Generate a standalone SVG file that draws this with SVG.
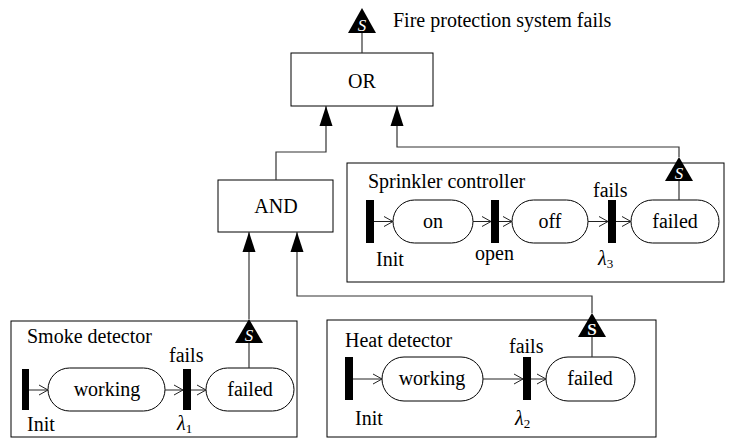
<svg xmlns="http://www.w3.org/2000/svg" width="732" height="440" viewBox="0 0 732 440" font-family="'Liberation Serif', 'DejaVu Serif', 'Times New Roman', serif">
  <style>
    text { font-family: "Liberation Serif", "DejaVu Serif", "Times New Roman", serif; font-size: 20px; fill: #000; }
    .mid { text-anchor: middle; }
    .box { fill: #fff; stroke: #000; stroke-width: 1; }
    .gate { fill: #fff; stroke: #000; stroke-width: 1; }
    .state { fill: #fff; stroke: #000; stroke-width: 1; }
    .bar { fill: #000; }
    .link { fill: none; stroke: #333; stroke-width: 1.2; }
    .trans { fill: none; stroke: #222; stroke-width: 1; marker-end: url(#chevron); }
    .trig { fill: #000; }
    .trigS { fill: #fff; font-size: 17px; font-style: italic; text-anchor: middle; }
    .trigU { fill: #fff; font-size: 17px; font-weight: bold; text-anchor: middle; }
    .lam { font-style: italic; }
    .sub { font-size: 13px; font-style: normal; }
  </style>
  <defs>
    <marker id="arrow" markerUnits="userSpaceOnUse" markerWidth="20" markerHeight="14" refX="20" refY="7" orient="auto">
      <path d="M0,0.5 L20,7 L0,13.5 z" fill="#000"/>
    </marker>
    <marker id="chevron" markerUnits="userSpaceOnUse" markerWidth="11" markerHeight="12" refX="10" refY="6" orient="auto">
      <path d="M1,1 L10,6 L1,11" fill="none" stroke="#222" stroke-width="1"/>
    </marker>
  </defs>

  <rect width="732" height="440" fill="#fff"/>

  <!-- boxes drawn first so connectors and triggers sit on top -->
  <g id="sprinkler">
    <rect class="box" x="347" y="163" width="377" height="119"/>
    <text x="368" y="188">Sprinkler controller</text>
    <rect class="bar" x="366" y="200" width="8" height="43"/>
    <rect class="state" x="393" y="200" width="80" height="43" rx="21.5"/>
    <text class="mid" x="433" y="228">on</text>
    <rect class="bar" x="491" y="200" width="8" height="43"/>
    <rect class="state" x="512" y="200" width="76" height="43" rx="21.5"/>
    <text class="mid" x="550" y="228">off</text>
    <rect class="bar" x="608" y="200" width="8" height="43"/>
    <rect class="state" x="631" y="200" width="88" height="43" rx="21.5"/>
    <text class="mid" x="675" y="228">failed</text>
    <path class="trans" d="M374,221.5 H393"/>
    <path class="trans" d="M473,221.5 H491"/>
    <path class="trans" d="M499,221.5 H512"/>
    <path class="trans" d="M588,221.5 H608"/>
    <path class="trans" d="M616,221.5 H631"/>
    <text x="376" y="266">Init</text>
    <text x="475" y="260">open</text>
    <text x="593" y="197">fails</text>
    <text class="lam" x="598" y="265">λ<tspan class="sub" dy="3">3</tspan></text>
    <line class="link" x1="679" y1="181" x2="679" y2="200"/>
  </g>

  <g id="smoke">
    <rect class="box" x="11" y="321" width="286" height="116"/>
    <text x="27" y="343">Smoke detector</text>
    <rect class="bar" x="22" y="369" width="7" height="41"/>
    <rect class="state" x="48" y="368" width="117" height="43" rx="21.5"/>
    <text class="mid" x="107" y="396">working</text>
    <rect class="bar" x="183" y="369" width="8" height="41"/>
    <rect class="state" x="206" y="368" width="88" height="43" rx="21.5"/>
    <text class="mid" x="250" y="396">failed</text>
    <path class="trans" d="M29,390 H48"/>
    <path class="trans" d="M165,390 H183"/>
    <path class="trans" d="M191,390 H206"/>
    <text x="27" y="431">Init</text>
    <text x="169" y="362">fails</text>
    <text class="lam" x="177" y="430">λ<tspan class="sub" dy="3">1</tspan></text>
    <line class="link" x1="249" y1="343" x2="249" y2="368"/>
  </g>

  <g id="heat">
    <rect class="box" x="327" y="320" width="329" height="117"/>
    <text x="345" y="347">Heat detector</text>
    <rect class="bar" x="345" y="357" width="8" height="43"/>
    <rect class="state" x="382" y="357" width="101" height="44" rx="22"/>
    <text class="mid" x="432" y="385">working</text>
    <rect class="bar" x="523" y="357" width="8" height="43"/>
    <rect class="state" x="546" y="357" width="89" height="44" rx="22"/>
    <text class="mid" x="590" y="385">failed</text>
    <path class="trans" d="M353,379 H382"/>
    <path class="trans" d="M483,379 H523"/>
    <path class="trans" d="M531,379 H546"/>
    <text x="355" y="425">Init</text>
    <text x="509" y="353">fails</text>
    <text class="lam" x="515" y="425">λ<tspan class="sub" dy="3">2</tspan></text>
    <line class="link" x1="592" y1="337" x2="592" y2="357"/>
  </g>

  <g id="or-gate">
    <rect class="gate" x="291" y="53" width="142" height="53"/>
    <text class="mid" x="362" y="88">OR</text>
  </g>

  <g id="and-gate">
    <rect class="gate" x="218" y="180" width="115" height="52"/>
    <text class="mid" x="276" y="213">AND</text>
  </g>

  <g id="connectors">
    <path class="link" d="M362,33 V53"/>
    <path class="link" d="M276,180 V152 H326 V106" marker-end="url(#arrow)"/>
    <path class="link" d="M679,157 V147 H397 V106" marker-end="url(#arrow)"/>
    <path class="link" d="M249,319 V232" marker-end="url(#arrow)"/>
    <path class="link" d="M592,313 V296 H297 V232" marker-end="url(#arrow)"/>
  </g>

  <!-- signal triggers -->
  <g id="top-event">
    <polygon class="trig" points="362,8 348,33 376,33"/>
    <text class="trigS" x="362" y="31">S</text>
    <text x="393" y="27">Fire protection system fails</text>
  </g>
  <g id="trigger-sprinkler">
    <polygon class="trig" points="679,157 665,181 693,181"/>
    <text class="trigS" x="679" y="179">S</text>
  </g>
  <g id="trigger-smoke">
    <polygon class="trig" points="249,319 235,343 263,343"/>
    <text class="trigS" x="249" y="341">S</text>
  </g>
  <g id="trigger-heat">
    <polygon class="trig" points="592,313 578,337 606,337"/>
    <text class="trigU" x="592" y="335">S</text>
  </g>
</svg>
